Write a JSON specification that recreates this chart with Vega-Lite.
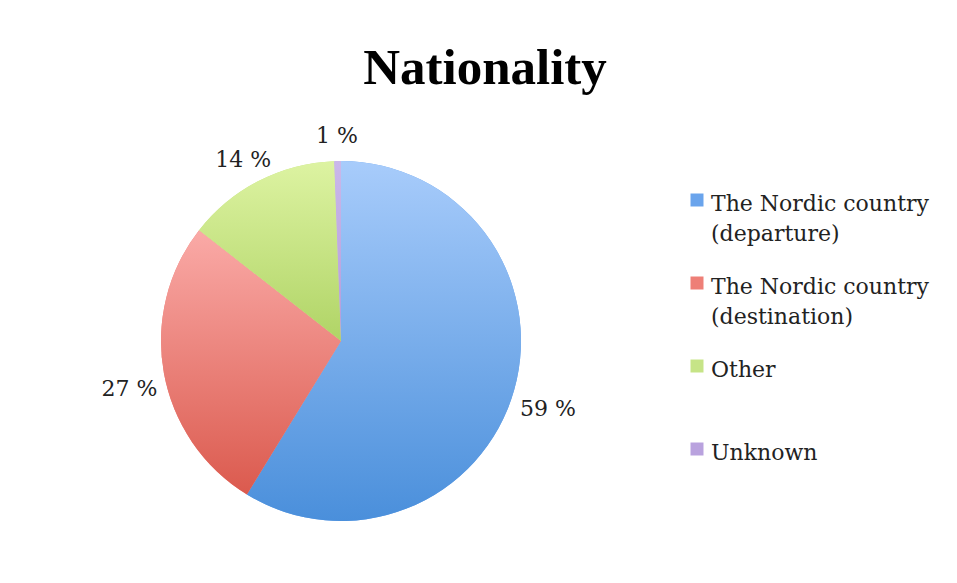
{
  "$schema": "https://vega.github.io/schema/vega-lite/v6.json",
  "width": 682,
  "height": 482,
  "autosize": "none",
  "padding": {"left": 0, "top": 100, "right": 275, "bottom": 1},
  "background": "white",
  "title": {
    "text": "Nationality",
    "font": "Liberation Serif",
    "fontSize": 51,
    "fontWeight": "bold",
    "color": "#000000",
    "anchor": "middle",
    "frame": "group",
    "dx": 144,
    "dy": 50,
    "offset": 15,
    "baseline": "alphabetic"
  },
  "data": {
    "values": [
      {"category": "The Nordic country (departure)", "share": 58.75, "label": "59 %", "order": 1},
      {"category": "The Nordic country (destination)", "share": 26.8, "label": "27 %", "order": 2},
      {"category": "Other", "share": 13.85, "label": "14 %", "order": 3},
      {"category": "Unknown", "share": 0.6, "label": "1 %", "order": 4}
    ]
  },
  "encoding": {
    "theta": {"field": "share", "type": "quantitative", "stack": true},
    "order": {"field": "order", "type": "quantitative"}
  },
  "layer": [
    {
      "mark": {"type": "arc", "outerRadius": 180},
      "encoding": {
        "color": {
          "field": "category",
          "type": "nominal",
          "sort": ["The Nordic country (departure)", "The Nordic country (destination)", "Other", "Unknown"],
          "scale": {
            "domain": ["The Nordic country (departure)", "The Nordic country (destination)", "Other", "Unknown"],
            "range": ["#6aa4ec", "#ee7f77", "#c6e487", "#b9a2de"]
          },
          "legend": {
            "orient": "none",
            "legendX": 686,
            "legendY": 89,
            "title": null,
            "symbolType": "square",
            "symbolSize": 169,
            "symbolStrokeWidth": 0,
            "symbolOpacity": 1,
            "labelFont": "DejaVu Serif",
            "labelFontSize": 22,
            "labelColor": "#222222",
            "labelLimit": 400,
            "labelOffset": 3,
            "labelBaseline": "top",
            "rowPadding": 27,
            "labelExpr": "length(datum.label) > 18 ? [slice(datum.label, 0, 18), slice(datum.label, 19)] : [datum.label, ' ']",
            "encode": {"labels": {"update": {"lineHeight": {"value": 30}, "dy": {"value": -6}}}}
          }
        }
      }
    },
    {
      "mark": {"type": "arc", "outerRadius": 180},
      "encoding": {
        "fill": {
          "condition": [
            {"test": "datum.category == 'The Nordic country (departure)'", "value": {"gradient": "linear", "x1": 0, "y1": 0, "x2": 0, "y2": 1, "stops": [{"offset": 0, "color": "#a8ccfb"}, {"offset": 1, "color": "#4a8fdb"}]}},
            {"test": "datum.category == 'The Nordic country (destination)'", "value": {"gradient": "linear", "x1": 0, "y1": 0, "x2": 0, "y2": 1, "stops": [{"offset": 0, "color": "#faaaa7"}, {"offset": 1, "color": "#db5a4e"}]}},
            {"test": "datum.category == 'Other'", "value": {"gradient": "linear", "x1": 0, "y1": 0, "x2": 0, "y2": 1, "stops": [{"offset": 0, "color": "#ddf3a2"}, {"offset": 1, "color": "#b0d466"}]}}
          ],
          "value": {"gradient": "linear", "x1": 0, "y1": 0, "x2": 0, "y2": 1, "stops": [{"offset": 0, "color": "#cab8ea"}, {"offset": 1, "color": "#b39bdb"}]}
        }
      }
    },
    {
      "mark": {"type": "text", "radius": 215, "dy": 10, "font": "DejaVu Serif", "fontSize": 22, "color": "#222222"},
      "encoding": {"text": {"field": "label", "type": "nominal"}}
    }
  ],
  "config": {"view": {"stroke": null}}
}
